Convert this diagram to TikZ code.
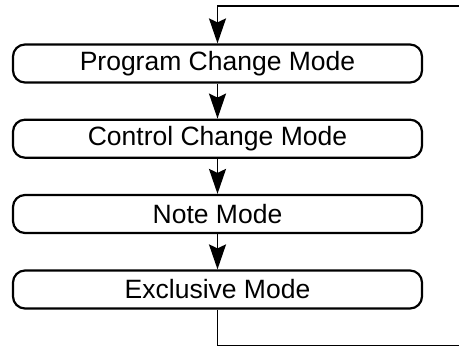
\documentclass[tikz,border=0pt]{standalone}
\usepackage{fontspec}
\setmainfont{Liberation Sans}
\usetikzlibrary{arrows.meta}
\begin{document}
\begin{tikzpicture}[x=1pt,y=-1pt,
  modebox/.style={draw, line width=2.2pt, rounded corners=12pt, minimum width=409pt, minimum height=38pt, inner sep=0pt, font=\fontsize{26.5}{28}\selectfont},
  flow/.style={line width=1.8pt, -{Stealth[length=25pt,width=17pt,inset=4pt]}},
  plain/.style={line width=1.8pt}]
\useasboundingbox (0,0) rectangle (459,347);
\node[modebox] (n1) at (217.5,63.5) {Program Change Mode};
\node[modebox] (n2) at (217.5,138.7) {Control Change Mode};
\node[modebox] (n3) at (217.5,214) {Note Mode};
\node[modebox] (n4) at (217.5,289.5) {Exclusive Mode};
\coordinate (top) at (459,6);
\coordinate (bot) at (459,345.5);
\draw[flow] (top) -| (n1.north);
\draw[flow] (n1) -- (n2);
\draw[flow] (n2) -- (n3);
\draw[flow] (n3) -- (n4);
\draw[plain] (n4.south) |- (bot);
\end{tikzpicture}
\end{document}
